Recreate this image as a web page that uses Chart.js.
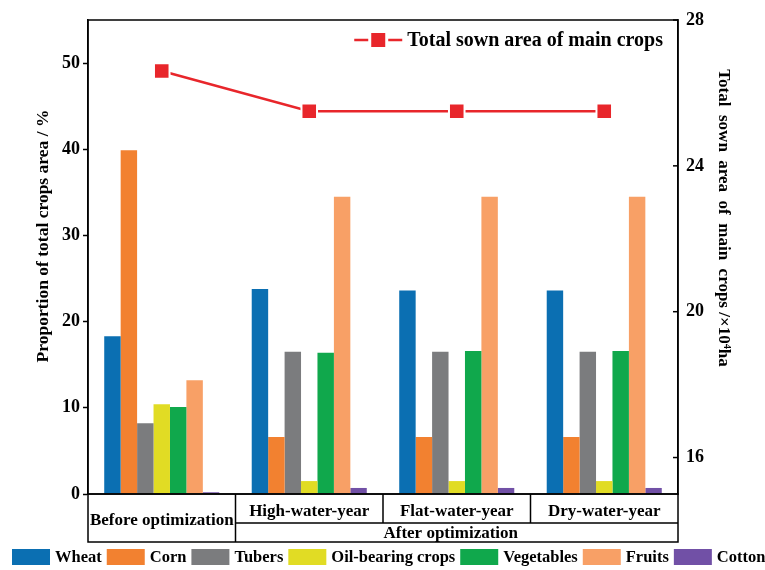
<!DOCTYPE html>
<html>
<head>
<meta charset="utf-8">
<script src="https://cdn.jsdelivr.net/npm/chart.js@4"></script>
<style>
  html, body { margin: 0; padding: 0; background: #fff; }
  #wrap { width: 765px; height: 570px; }
</style>
</head>
<body>
<div id="wrap"><canvas id="c" width="765" height="570"></canvas></div>
<script>
// ---- data ----
const categories = ['Before optimization', 'High-water-year', 'Flat-water-year', 'Dry-water-year'];
const groupLabel = 'After optimization';
const cropNames = ['Wheat', 'Corn', 'Tubers', 'Oil-bearing crops', 'Vegetables', 'Fruits', 'Cotton'];
const wheat      = [18.3, 23.8, 23.6, 23.6];
const corn       = [39.9, 6.6, 6.6, 6.6];
const tubers     = [8.2, 16.5, 16.5, 16.5];
const oilCrops   = [10.4, 1.5, 1.5, 1.5];
const vegetables = [10.1, 16.4, 16.6, 16.6];
const fruits     = [13.2, 34.5, 34.5, 34.5];
const cotton     = [0.2, 0.7, 0.7, 0.7];
const lineLabel  = 'Total sown area of main crops';
const totalSown  = [26.6, 25.5, 25.5, 25.5];
const leftTicks  = [0, 10, 20, 30, 40, 50];
const rightTicks = [16, 20, 24, 28];
const leftTitle  = 'Proportion of total crops area / %';
const rightTitle = 'Total  sown  area  of  main  crops /×10⁴ha';

const cropColors = ['#0b6fb2', '#f28130', '#7b7c7e', '#e1dc24', '#10a84c', '#f8a066', '#7150a6'];
const cropSeries = [wheat, corn, tubers, oilCrops, vegetables, fruits, cotton];
const lineColor = '#e8262b';
const FONT = '"Liberation Serif", "Times New Roman", serif';

const datasets = [{
  type: 'line',
  label: lineLabel,
  data: totalSown,
  yAxisID: 'y1',
  borderColor: lineColor,
  borderWidth: 2.5,
  pointStyle: 'rect',
  pointRadius: 11,
  pointBackgroundColor: lineColor,
  pointBorderColor: '#ffffff',
  pointBorderWidth: 2,
  order: 0
}].concat(cropNames.map((n, i) => ({
  type: 'bar',
  label: n,
  data: cropSeries[i],
  backgroundColor: cropColors[i],
  borderWidth: 0,
  yAxisID: 'y',
  categoryPercentage: 0.78,
  barPercentage: 1.0,
  order: 1
})));

const decor = {
  id: 'decor',
  afterDraw(chart) {
    const ctx = chart.ctx;
    const ca = chart.chartArea;
    const xs = chart.scales.x;
    ctx.save();
    ctx.strokeStyle = '#000';
    ctx.fillStyle = '#000';
    ctx.lineWidth = 1.5;
    // frame
    ctx.strokeRect(ca.left, ca.top, ca.right - ca.left, ca.bottom - ca.top);
    // right axis inward ticks
    const ys1 = chart.scales.y1;
    ys1.ticks.forEach(t => {
      const py = ys1.getPixelForValue(t.value);
      ctx.beginPath(); ctx.moveTo(ca.right - 5, py); ctx.lineTo(ca.right, py); ctx.stroke();
    });
    // axis titles
    ctx.textAlign = 'center';
    ctx.textBaseline = 'middle';
    ctx.font = 'bold 17.5px ' + FONT;
    ctx.save();
    ctx.translate(43, ca.top + 216);
    ctx.rotate(-Math.PI / 2);
    ctx.fillText(leftTitle, 0, 0);
    ctx.restore();
    ctx.font = 'bold 17px ' + FONT;
    ctx.save();
    ctx.translate(ca.right + 45, ca.top + 198);
    ctx.rotate(Math.PI / 2);
    ctx.fillText(rightTitle, 0, 0);
    ctx.restore();
    // category table
    const n = categories.length;
    const bounds = [ca.left];
    for (let i = 0; i < n - 1; i++) bounds.push((xs.getPixelForValue(i) + xs.getPixelForValue(i + 1)) / 2);
    bounds.push(ca.right);
    const tTop = ca.bottom, tBot = ca.bottom + 48, tMid = ca.bottom + 29;
    ctx.strokeRect(ca.left, tTop, ca.right - ca.left, tBot - tTop);
    ctx.beginPath();
    ctx.moveTo(bounds[1], tTop); ctx.lineTo(bounds[1], tBot);
    for (let i = 2; i < n; i++) { ctx.moveTo(bounds[i], tTop); ctx.lineTo(bounds[i], tMid); }
    ctx.moveTo(bounds[1], tMid); ctx.lineTo(ca.right, tMid);
    ctx.stroke();
    ctx.font = 'bold 17px ' + FONT;
    ctx.fillText(categories[0], (bounds[0] + bounds[1]) / 2, (tTop + tBot) / 2 + 3);
    for (let i = 1; i < n; i++) ctx.fillText(categories[i], (bounds[i] + bounds[i + 1]) / 2, (tTop + tMid) / 2 + 3);
    ctx.fillText(groupLabel, (bounds[1] + ca.right) / 2 - 6, (tMid + tBot) / 2 + 1);
    // bottom legend
    ctx.font = 'bold 16.5px ' + FONT;
    ctx.textAlign = 'left';
    let lx = 12; const ly = 557;
    cropNames.forEach((name, i) => {
      ctx.fillStyle = cropColors[i];
      ctx.fillRect(lx, ly - 8, 38, 16);
      lx += 43;
      ctx.fillStyle = '#000';
      ctx.fillText(name, lx, ly + 1);
      lx += ctx.measureText(name).width + 5;
    });
    // inner legend for line
    ctx.font = 'bold 20px ' + FONT;
    ctx.textAlign = 'right';
    const tx = ca.right - 15, ty = ca.top + 20;
    ctx.fillText(lineLabel, tx, ty + 1);
    const tw = ctx.measureText(lineLabel).width;
    const sx1 = tx - tw - 53, sx2 = tx - tw - 5, mx = (sx1 + sx2) / 2;
    ctx.strokeStyle = lineColor; ctx.lineWidth = 2.5;
    ctx.beginPath(); ctx.moveTo(sx1, ty); ctx.lineTo(mx - 10, ty); ctx.moveTo(mx + 10, ty); ctx.lineTo(sx2, ty); ctx.stroke();
    ctx.fillStyle = lineColor;
    ctx.fillRect(mx - 7, ty - 7, 14, 14);
    ctx.restore();
  }
};

new Chart(document.getElementById('c'), {
  data: { labels: categories, datasets },
  options: {
    responsive: false,
    animation: false,
    layout: { padding: { top: 20, bottom: 76, left: 0, right: 0 } },
    plugins: { legend: { display: false }, tooltip: { enabled: false } },
    scales: {
      x: { display: false },
      y: {
        position: 'left',
        min: 0, max: 55,
        afterBuildTicks: s => { s.ticks = leftTicks.map(v => ({ value: v })); },
        afterFit: s => { s.width = 88; },
        ticks: { color: '#000', font: { family: FONT, size: 18, weight: 'bold' }, padding: 3 },
        grid: { display: true, drawOnChartArea: false, drawTicks: true, tickLength: 5, color: '#000', tickWidth: 1.5 },
        border: { display: true, color: '#000', width: 1.5 },
        title: { display: false }
      },
      y1: {
        position: 'right',
        min: 15, max: 28,
        afterBuildTicks: s => { s.ticks = rightTicks.map(v => ({ value: v })); },
        afterFit: s => { s.width = 87; },
        ticks: { color: '#000', font: { family: FONT, size: 18, weight: 'bold' }, padding: 8 },
        grid: { display: false, drawTicks: false },
        border: { display: true, color: '#000', width: 1.5 },
        title: { display: false }
      }
    }
  },
  plugins: [decor]
});
</script>
</body>
</html>
